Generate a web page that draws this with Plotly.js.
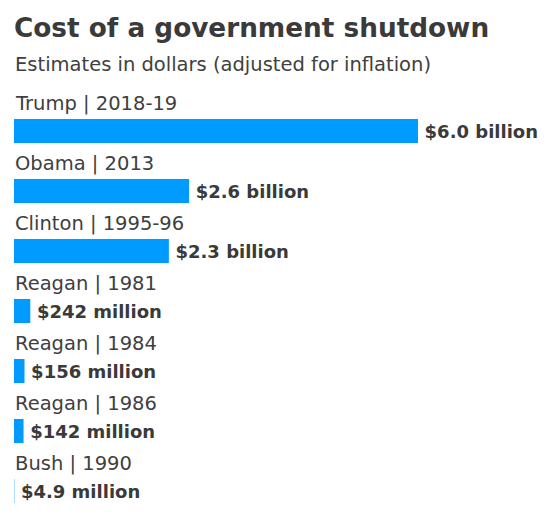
<!DOCTYPE html>
<html>
<head>
<meta charset="utf-8">
<script src="https://cdn.plot.ly/plotly-3.0.1.min.js"></script>
<style>html,body{margin:0;padding:0;background:#fff;}#chart{width:550px;height:518px;}</style>
</head>
<body>
<div id="chart"></div>
<script>
const labels = ["Trump | 2018-19", "Obama | 2013", "Clinton | 1995-96", "Reagan | 1981", "Reagan | 1984", "Reagan | 1986", "Bush | 1990"];
const costBillions = [6.0, 2.6, 2.3, 0.242, 0.156, 0.142, 0.0049];
const valueLabels = ["$6.0 billion", "$2.6 billion", "$2.3 billion", "$242 million", "$156 million", "$142 million", "$4.9 million"];

const FONT = "'DejaVu Sans', sans-serif";
const trace = {
  type: "bar",
  orientation: "h",
  y: labels,
  x: costBillions,
  text: valueLabels,
  texttemplate: "\u2009%{text}",
  textposition: "outside",
  constraintext: "none",
  cliponaxis: false,
  textfont: {family: FONT, size: 18, color: "#3a3a3a", weight: 700},
  marker: {color: "#009bff", line: {width: 0}},
  width: 0.4,
  hoverinfo: "none"
};

const annotations = labels.map(l => ({
  xref: "x", yref: "y", x: 0, y: l, text: l,
  showarrow: false, xanchor: "left", yanchor: "middle", yshift: 28, xshift: -1,
  font: {family: FONT, size: 19.5, color: "#404040"}
}));
annotations.push({
  xref: "paper", yref: "paper", x: 0, y: 1, yshift: 16, xshift: -1,
  xanchor: "left", yanchor: "middle", showarrow: false,
  text: "Estimates in dollars (adjusted for inflation)",
  font: {family: FONT, size: 19.5, color: "#404040"}
});

const layout = {
  width: 550, height: 518,
  margin: {l: 14, r: 0, t: 80, b: 0},
  paper_bgcolor: "#fff", plot_bgcolor: "#fff",
  title: {
    text: "<b>Cost of a government shutdown</b>",
    xref: "container", yref: "container", x: 14/550, xanchor: "left",
    y: 1 - 28/518, yanchor: "middle",
    font: {family: FONT, size: 26.3, color: "#3a3a3a"}
  },
  xaxis: {range: [0, 6.0 * 536 / 404], visible: false, fixedrange: true},
  yaxis: {type: "category", range: [6.45, -0.85], visible: false, fixedrange: true},
  showlegend: false,
  annotations: annotations
};

Plotly.newPlot("chart", [trace], layout, {displayModeBar: false, staticPlot: true});
</script>
</body>
</html>
